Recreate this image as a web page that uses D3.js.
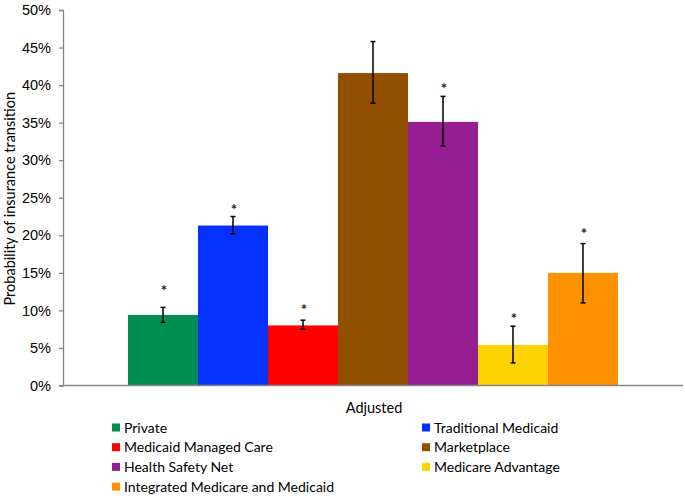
<!DOCTYPE html>
<html>
<head>
<meta charset="utf-8">
<script src="https://cdn.jsdelivr.net/npm/d3@7"></script>
<style>
  body { margin: 0; background: #fff; }
  svg { display: block; font-family: Lato, "Open Sans", sans-serif; }
  .tick text { font-size: 14.5px; fill: #000; }
</style>
</head>
<body>
<svg id="chart" width="685" height="496"></svg>
<script>
const group = ['Adjusted']
const series = ['Private', 'Traditional Medicaid', 'Medicaid Managed Care', 'Marketplace',
    'Health Safety Net', 'Medicare Advantage', 'Integrated Medicare and Medicaid']
const colors = ['#008E52', '#0531FF', '#FF0000', '#934F00', '#951F92', '#FFD300', '#FF9200']
const values = [0.094, 0.213, 0.080, 0.416, 0.351, 0.054, 0.150]
const errLow = [0.084, 0.202, 0.075, 0.376, 0.319, 0.030, 0.110]
const errHigh = [0.104, 0.225, 0.087, 0.458, 0.385, 0.079, 0.189]
const stars = [0.130, 0.238, 0.104, null, 0.399, 0.093, 0.206]
const yTicks = d3.range(0, 0.501, 0.05)

const svg = d3.select('#chart')
const plotLeft = 63, plotRight = 683, plotTop = 10, plotBottom = 385.5

const y = d3.scaleLinear().domain([0, 0.5]).range([plotBottom, plotTop])
const x0 = d3.scaleBand().domain(group).range([plotLeft, plotRight]).paddingInner(0).paddingOuter(0.1327)
const x1 = d3.scaleBand().domain(series).range([0, x0.bandwidth()])

// y axis
const yAxis = svg.append('g')
    .attr('transform', `translate(${plotLeft},0)`)
    .call(d3.axisLeft(y).tickValues(yTicks).tickFormat(d3.format('.0%')).tickSize(4).tickPadding(8))
yAxis.select('.domain').attr('stroke', '#868686').attr('stroke-width', 1.3)
yAxis.selectAll('.tick line').attr('stroke', '#868686').attr('stroke-width', 1.3)

svg.append('text')
    .attr('transform', `translate(15,${(plotTop + plotBottom) / 2 + 1}) rotate(-90)`)
    .attr('text-anchor', 'middle')
    .attr('font-size', 14.5)
    .text('Probability of insurance transition')

// bars
const g = svg.append('g').attr('transform', `translate(${x0('Adjusted')},0)`)
const rows = series.map((s, i) => ({ s, v: values[i], lo: errLow[i], hi: errHigh[i], star: stars[i], c: colors[i] }))

g.selectAll('rect.bar').data(rows).enter().append('rect')
    .attr('class', 'bar')
    .attr('x', d => x1(d.s))
    .attr('width', x1.bandwidth())
    .attr('y', d => y(d.v))
    .attr('height', d => y(0) - y(d.v))
    .attr('fill', d => d.c)

const eb = g.selectAll('g.err').data(rows).enter().append('g').attr('class', 'err')
    .attr('stroke', '#000').attr('stroke-width', 1.5)
const cx = d => x1(d.s) + x1.bandwidth() / 2
eb.append('line').attr('x1', cx).attr('x2', cx).attr('y1', d => y(d.lo)).attr('y2', d => y(d.hi))
eb.append('line').attr('x1', d => cx(d) - 2.5).attr('x2', d => cx(d) + 2.5).attr('y1', d => y(d.lo)).attr('y2', d => y(d.lo))
eb.append('line').attr('x1', d => cx(d) - 2.5).attr('x2', d => cx(d) + 2.5).attr('y1', d => y(d.hi)).attr('y2', d => y(d.hi))

g.selectAll('text.star').data(rows.filter(d => d.star !== null)).enter().append('text')
    .attr('class', 'star')
    .attr('x', d => cx(d) + 1)
    .attr('y', d => y(d.star) + 8)
    .attr('text-anchor', 'middle')
    .attr('font-size', 15)
    .attr('font-weight', 'bold')
    .attr('fill', '#222')
    .text('*')

// baseline
svg.append('line').attr('x1', plotLeft).attr('x2', plotRight).attr('y1', plotBottom).attr('y2', plotBottom)
    .attr('stroke', '#868686').attr('stroke-width', 1.3)

svg.append('text')
    .attr('x', (plotLeft + plotRight) / 2 + 1)
    .attr('y', 413)
    .attr('text-anchor', 'middle')
    .attr('font-size', 14.5)
    .text('Adjusted')

// legend
const legend = svg.append('g')
const lx = [112, 422]
rows.forEach((d, i) => {
    const col = i % 2, row = Math.floor(i / 2)
    const item = legend.append('g').attr('transform', `translate(${lx[col]},${427.5 + row * 19.7})`)
    item.append('rect').attr('x', 0).attr('y', -4).attr('width', 8).attr('height', 8).attr('fill', d.c)
    item.append('text').attr('x', 12).attr('y', 5).attr('font-size', 14).text(d.s)
})
</script>
</body>
</html>
